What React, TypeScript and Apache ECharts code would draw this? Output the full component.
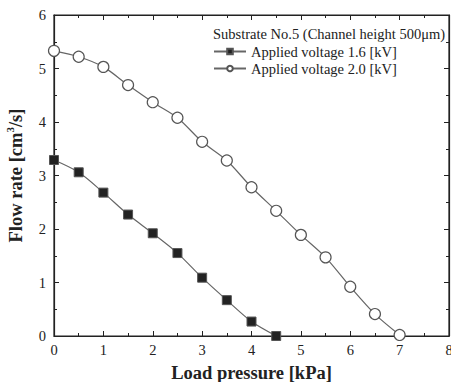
import React, { useEffect, useRef } from "react";
import * as echarts from "echarts";

const xValues1 = [0, 0.5, 1, 1.5, 2, 2.5, 3, 3.5, 4, 4.5];
const flow16 = [3.29, 3.06, 2.68, 2.27, 1.92, 1.55, 1.09, 0.67, 0.27, 0.0];
const xValues2 = [0, 0.5, 1, 1.5, 2, 2.5, 3, 3.5, 4, 4.5, 5, 5.5, 6, 6.5, 7];
const flow20 = [5.33, 5.22, 5.03, 4.69, 4.37, 4.08, 3.63, 3.28, 2.78, 2.34, 1.89, 1.47, 0.92, 0.41, 0.02];
const seriesNames = ["Applied voltage 1.6 [kV]", "Applied voltage 2.0 [kV]"];
const titleText = "Substrate No.5 (Channel height 500\u03bcm)";

const FONT = "'Liberation Serif', 'DejaVu Serif', serif";
const AXIS = "#222";

export default function App() {
  const ref = useRef<HTMLDivElement>(null);
  useEffect(() => {
    const chart = echarts.init(ref.current!, null, { renderer: "svg" });
    const axisCommon = {
      type: "value" as const,
      axisLine: { show: true, onZero: false, lineStyle: { color: AXIS, width: 1.2 } },
      axisTick: { show: true, inside: true, length: 5, lineStyle: { color: AXIS } },
      minorTick: { show: true, splitNumber: 2, length: 3, lineStyle: { color: AXIS } },
      splitLine: { show: false },
    };
    chart.setOption({
      animation: false,
      backgroundColor: "#fff",
      title: {
        text: titleText,
        left: 213,
        top: 26,
        padding: 0,
        textStyle: { fontFamily: FONT, fontSize: 14.5, fontWeight: "normal", color: "#222" },
      },
      legend: {
        orient: "vertical",
        left: 213,
        top: 44,
        padding: 0,
        itemWidth: 32,
        itemHeight: 7,
        itemGap: 2,
        textStyle: { fontFamily: FONT, fontSize: 14.5, color: "#222" },
        data: seriesNames,
      },
      grid: {
        left: 54, right: 2, top: 15, bottom: 46,
        outerBoundsMode: "none",
        containLabel: false,
        show: true, borderColor: AXIS, borderWidth: 1.2, backgroundColor: "transparent",
      },
      xAxis: [
        {
          ...axisCommon,
          min: 0,
          max: 8,
          interval: 1,
          position: "bottom",
          name: "Load pressure [kPa]",
          nameLocation: "middle",
          nameGap: 27,
          nameTextStyle: { fontFamily: FONT, fontSize: 18.5, fontWeight: "bold", color: "#222" },
          axisLabel: { fontFamily: FONT, fontSize: 14.5, color: "#222", margin: 6 },
        },
        {
          ...axisCommon,
          min: 0,
          max: 8,
          interval: 1,
          position: "top",
          axisLabel: { show: false },
        },
      ],
      yAxis: [
        {
          ...axisCommon,
          min: 0,
          max: 6,
          interval: 1,
          position: "left",
          name: "{n|Flow rate [cm}{s|3}{n|/s]}",
          nameLocation: "middle",
          nameGap: 26,
          nameTextStyle: {
            rich: {
              n: { fontFamily: FONT, fontSize: 18.5, fontWeight: "bold", color: "#222", lineHeight: 24 },
              s: { fontFamily: FONT, fontSize: 11, fontWeight: "bold", color: "#222", lineHeight: 11, verticalAlign: "top" },
            },
          },
          axisLabel: { fontFamily: FONT, fontSize: 14.5, color: "#222", margin: 8 },
        },
        {
          ...axisCommon,
          min: 0,
          max: 6,
          interval: 1,
          position: "right",
          axisLabel: { show: false },
        },
      ],
      series: [
        {
          name: seriesNames[0],
          type: "line",
          smooth: 0.3,
          data: xValues1.map((x, i) => [x, flow16[i]]),
          symbol: "rect",
          symbolSize: 9,
          lineStyle: { color: "#666", width: 1.2 },
          itemStyle: { color: "#222", borderColor: "#555", borderWidth: 1 },
          z: 3,
        },
        {
          name: seriesNames[1],
          type: "line",
          smooth: 0.3,
          data: xValues2.map((x, i) => [x, flow20[i]]),
          symbol: "circle",
          symbolSize: 11,
          showAllSymbol: true,
          lineStyle: { color: "#666", width: 1.2 },
          itemStyle: { color: "#fff", borderColor: "#555", borderWidth: 1.2 },
          z: 3,
        },
        {
          name: "frame",
          type: "line",
          xAxisIndex: 1,
          yAxisIndex: 1,
          data: [],
          silent: true,
        },
      ],
    });
    return () => chart.dispose();
  }, []);
  return <div ref={ref} style={{ position: "fixed", left: 0, top: 0, width: 451, height: 382 }} />;
}
